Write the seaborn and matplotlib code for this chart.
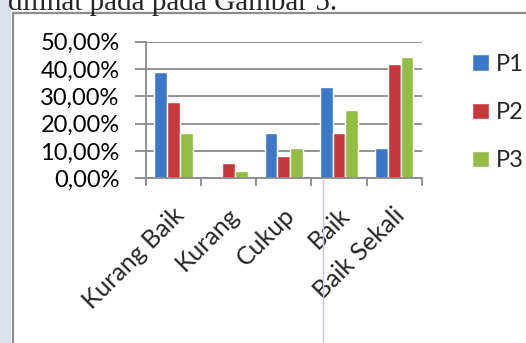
import pandas as pd
import seaborn as sns
import matplotlib.pyplot as plt
import matplotlib.transforms as mtransforms
from matplotlib.patches import Rectangle
from matplotlib.lines import Line2D
from matplotlib.ticker import FuncFormatter, MultipleLocator

categories = ["Kurang Baik", "Kurang", "Cukup", "Baik", "Baik Sekali"]
series = ["P1", "P2", "P3"]
p1 = [38.89, 0.0, 16.67, 33.33, 11.11]
p2 = [27.78, 5.56, 8.33, 16.67, 41.67]
p3 = [16.67, 2.78, 11.11, 25.00, 44.44]
palette = ["#3b78c8", "#c8373a", "#93be45"]

df = pd.DataFrame({
    "kategori": categories * 3,
    "seri": [s for s in series for _ in categories],
    "nilai": [v / 100 for v in p1 + p2 + p3],
})

sns.set_theme(style="white")
plt.rcParams["font.family"] = ["Lato", "DejaVu Sans"]

fig = plt.figure(figsize=(5.26, 3.43), dpi=100)
ax = fig.add_axes([0.2776, 0.480, 0.8017 - 0.2776, 0.8784 - 0.480])

sns.barplot(data=df, x="kategori", y="nilai", hue="seri", order=categories,
            hue_order=series, palette=palette, width=0.7, saturation=1,
            ax=ax, legend=True)

grid_col = "#8a8a8a"
ax.set_ylim(0, 0.5)
ax.set_xlim(-0.5, 4.5)
ax.yaxis.set_major_locator(MultipleLocator(0.1))
ax.yaxis.set_major_formatter(FuncFormatter(lambda v, _: f"{v * 100:.2f}%".replace(".", ",")))
ax.grid(True, axis="y", color=grid_col, linewidth=1.3)
ax.set_axisbelow(True)
for name, sp in ax.spines.items():
    if name in ("left", "bottom"):
        sp.set_color(grid_col)
        sp.set_linewidth(1.3)
    else:
        sp.set_visible(False)
ax.set_xlabel("")
ax.set_ylabel("")
ax.tick_params(axis="y", left=True, length=8, width=1.3, color=grid_col,
               labelsize=17, pad=11, labelcolor="black")

# category boundaries get the tick marks, labels sit at the centres
ax.set_xticks([i - 0.5 for i in range(len(categories) + 1)], minor=True)
ax.tick_params(axis="x", which="minor", bottom=True, length=6, width=1.3, color=grid_col)
ax.tick_params(axis="x", which="major", bottom=False, length=0, labelsize=18, pad=0)
offset = mtransforms.ScaledTranslation(7 / 100, -33 / 100, fig.dpi_scale_trans)
for lab in ax.get_xticklabels():
    lab.set_rotation(45)
    lab.set_rotation_mode("anchor")
    lab.set_ha("right")
    lab.set_va("center")
    lab.set_transform(lab.get_transform() + offset)

handles, labels = ax.get_legend_handles_labels()
ax.legend_.remove()
fig.legend(handles, labels, loc="upper left", bbox_to_anchor=(472 / 526, 1 - 54 / 343),
           frameon=False, fontsize=17, handlelength=0.7, handleheight=0.7,
           handletextpad=0.3, labelspacing=1.15, borderaxespad=0, borderpad=0)

# page decoration around the embedded chart
W, H = 526, 343
fig.patches.append(Rectangle((0, 0), 11 / W, 1, transform=fig.transFigure,
                             facecolor="#dde1ec", edgecolor="none", zorder=0))
fig.lines.append(Line2D([12.5 / W, 12.5 / W], [0, 1 - 12.5 / H], transform=fig.transFigure,
                        color="#8c8c8c", linewidth=1.6))
fig.lines.append(Line2D([12.5 / W, 1], [1 - 12.5 / H, 1 - 12.5 / H], transform=fig.transFigure,
                        color="#8c8c8c", linewidth=1.6))
fig.lines.append(Line2D([323 / W, 323 / W], [0, 1 - 180 / H], transform=fig.transFigure,
                        color="#c9cad8", linewidth=1.0))
fig.text(8 / W, 1 - 10 / H, "dilihat pada pada Gambar 5.", fontsize=21,
         family=["Liberation Serif", "DejaVu Serif"], va="baseline", ha="left")

fig.savefig("out.png", dpi=100)
plt.close()
